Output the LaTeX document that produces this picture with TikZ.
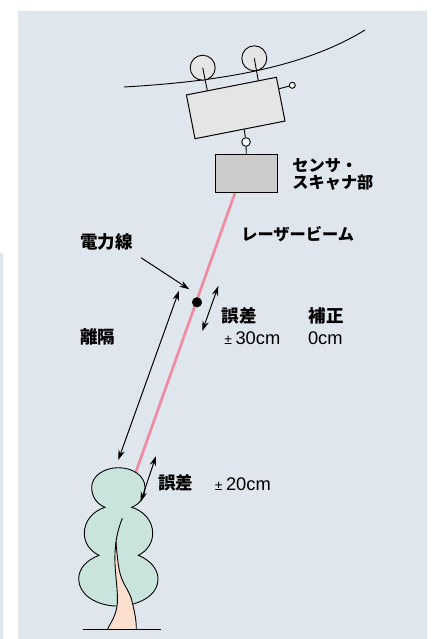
\documentclass[tikz,border=0pt]{standalone}
\usepackage{fontspec}
\setmainfont{Liberation Sans}
\newfontfamily\jpfont{Noto Sans CJK JP}
\usetikzlibrary{arrows.meta}
\definecolor{panelbg}{HTML}{DFE6ED}
\definecolor{beampink}{HTML}{F08CA2}
\definecolor{leafgreen}{HTML}{C9E4DC}
\definecolor{trunkpink}{HTML}{FDDFCF}
\tikzset{
  >={Stealth[length=10pt,width=6.5pt]},
  wheel/.style={
    draw, circle, fill=black!10, inner sep=0pt, minimum size=25pt, line width=0.9pt
  },
  carrier/.style={
    draw, rectangle, fill=black!10, inner sep=0pt, line width=1pt,
    minimum width=91.7pt, minimum height=44.6pt, rotate=11.1
  },
  sensor/.style={
    draw, rectangle, fill=black!20, inner sep=0pt, line width=1pt,
    minimum width=62pt, minimum height=37.4pt
  },
  joint/.style={
    draw, circle, fill=white, inner sep=0pt, line width=0.9pt
  },
  kanalabel/.style={
    align=left, inner sep=0pt, font=\jpfont\bfseries\fontsize{16.2}{17.6}\selectfont
  },
  jplabel/.style={
    inner sep=0pt, font=\jpfont\bfseries\fontsize{17.5}{18}\selectfont
  },
  value/.style={
    inner sep=0pt, font=\fontsize{18.3}{19}\selectfont
  },
  measure/.style={
    line width=1pt
  },
  outline/.style={
    line width=0.9pt
  },
}
\newcommand{\plusminus}{{\fontsize{14}{14}\selectfont ±}\kern3.5pt}
\begin{document}
\begin{tikzpicture}[x=1pt,y=-1pt]
  \useasboundingbox (0,0) rectangle (432,639);
  \fill[panelbg] (18,11) rectangle (427,639);
  \fill[panelbg] (0,253) rectangle (3,639);
  % overhead wire and inspection unit
  \draw[outline] (124,87) .. controls (210,82) and (300,70) .. (365,30);
  \node[wheel] (wheela) at (202.7,67.7) {};
  \node[wheel] (wheelb) at (254.3,58.3) {};
  \coordinate (arma) at (207.3,90.7);
  \coordinate (armb) at (258.3,80.7);
  \draw[outline] (wheela.center) -- (arma);
  \draw[outline] (wheelb.center) -- (armb);
  \node[carrier] (unit) at (235.7,108) {};
  \node[joint, minimum size=6pt] (knob) at (292.3,85.3) {};
  \coordinate (knobroot) at (279.3,88.7);
  \draw[outline] (knobroot) -- (knob);
  \node[joint, minimum size=8.6pt] (hinge) at (246,142) {};
  \coordinate (hingeroot) at (244.3,130);
  \coordinate (sensortop) at (246.3,154.7);
  \draw[outline] (hingeroot) -- (hinge);
  \draw[outline] (hinge) -- (sensortop);
  % laser beam, under the sensor and the crown
  \coordinate (beamtop) at (236,190);
  \coordinate (beamfoot) at (135.5,473);
  \draw[beampink, line width=2.7pt] (beamtop) -- (beamfoot);
  \node[sensor] (scanner) at (246,173.3) {};
  \node[draw, circle, fill=black, inner sep=0pt, minimum size=9.6pt] (linedot) at (197,302.3) {};
  % tree
  \draw[fill=leafgreen, outline] (105,507.3)
    .. controls (97,504) and (91.7,497) .. (91.7,487.3)
    .. controls (91.7,476) and (104,467.7) .. (118.3,467.7)
    .. controls (133,467.7) and (145,476) .. (145,487.3)
    .. controls (145,497) and (140,504) .. (131.7,507.3)
    .. controls (144,511) and (152.7,521) .. (152.7,533.3)
    .. controls (152.7,543) and (147,551) .. (138.3,555.3)
    .. controls (150,560) and (158,569) .. (158,579)
    .. controls (158,592) and (147,600) .. (133.3,604)
    .. controls (127,606) and (121,606) .. (115,606)
    .. controls (95,605) and (78.7,594) .. (78.7,579)
    .. controls (78.7,568) and (87,560) .. (99,555.3)
    .. controls (90,551) and (84.3,543) .. (84.3,533.3)
    .. controls (84.3,521) and (93,511) .. (105,507.3) -- cycle;
  \fill[trunkpink] (116,541.7)
    .. controls (117,555) and (118,565) .. (120,573.3)
    .. controls (123,585) and (129,590) .. (131.7,600)
    .. controls (134,610) and (136.3,618) .. (136.3,629)
    -- (107.7,629)
    .. controls (111,622) and (116.5,615) .. (117.3,603.3)
    .. controls (118,590) and (115.5,578) .. (115,563.3)
    .. controls (114.7,556) and (115,550) .. (116,541.7) -- cycle;
  \draw[outline] (122.3,518.3)
    .. controls (118.5,528) and (117,535) .. (116,541.7)
    .. controls (115,550) and (114.7,556) .. (115,563.3)
    .. controls (115.5,578) and (118,590) .. (117.3,603.3)
    .. controls (116.5,615) and (111,622) .. (107.7,629);
  \draw[outline] (116,541.7)
    .. controls (117,555) and (118,565) .. (120,573.3)
    .. controls (123,585) and (129,590) .. (131.7,600)
    .. controls (134,610) and (136.3,618) .. (136.3,629);
  \coordinate (groundl) at (82.7,629.3);
  \coordinate (groundr) at (160.7,629.3);
  \draw[outline] (groundl) -- (groundr);
  % labels
  \node[kanalabel, anchor=west] (scannerlabel) at (292.2,174.5) {センサ・\\スキャナ部};
  \node[kanalabel, anchor=west] (beamlabel) at (241.2,234) {レーザービーム};
  \node[jplabel] (linelabel) at (106.7,241.7) {電力線};
  \node[jplabel] (gaplabel) at (97.7,337.3) {離隔};
  \node[jplabel] (errupper) at (239,315.7) {誤差};
  \node[jplabel] (fixlabel) at (326,315.7) {補正};
  \node[value] (errupperval) at (252.3,337.7) {\plusminus 30cm};
  \node[value] (fixval) at (325.3,337.7) {0cm};
  \node[jplabel] (errlower) at (175.7,483.3) {誤差};
  \node[value] (errlowerval) at (242.8,484.3) {\plusminus 20cm};
  % arrows
  \coordinate (linefrom) at (141,257.7);
  \coordinate (lineto) at (189.3,289.3);
  \draw[->, measure] (linefrom) -- (lineto);
  \coordinate (gaptop) at (179,290.7);
  \coordinate (gapfoot) at (118.3,460);
  \draw[<->, measure] (gaptop) -- (gapfoot);
  \coordinate (upperhi) at (218.3,286);
  \coordinate (upperlo) at (202.3,331);
  \draw[<->, measure] (upperhi) -- (upperlo);
  \coordinate (lowerhi) at (156,456);
  \coordinate (lowerlo) at (140.7,501.7);
  \draw[<->, measure] (lowerhi) -- (lowerlo);
\end{tikzpicture}
\end{document}
